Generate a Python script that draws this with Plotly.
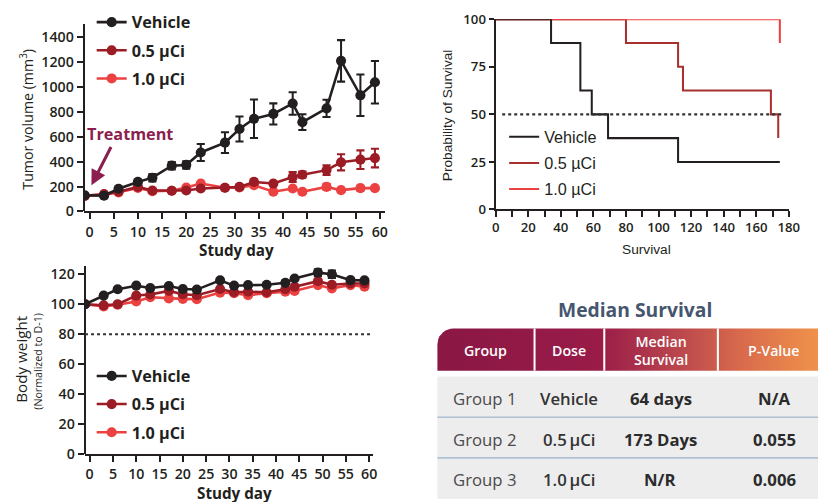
import math
import plotly.graph_objects as go

# Layout is designed on an 818 x 502 grid; the canvas itself is a touch larger
# and everything pixel-based is multiplied by S so proportions stay the same.
W0, H0 = 818, 502
W, H = 830, 510
S = W / W0


def fx(p):
    return p / W0


def fy(p):
    return 1 - p / H0


def sz(v):
    return v * S


# ---------------- data ----------------
groups = ["Vehicle", "0.5 µCi", "1.0 µCi"]
colors = ["#231F20", "#9C1C26", "#EC4141"]
km_colors = ["#231F20", "#A8302E", "#EC4141"]

days = [-1, 3, 6, 10, 13, 17, 20, 23, 28, 31, 34, 38, 42, 44, 49, 52, 56, 59]

tumor_vehicle = [130, 126, 182, 237, 271, 368, 374, 474, 553, 663, 745, 784, 868, 718, 829, 1211, 934, 1039]
tumor_vehicle_err = [8, 8, 10, 15, 30, 30, 30, 68, 83, 100, 155, 85, 90, 63, 70, 167, 167, 171]
tumor_05 = [125, 139, 158, 197, 168, 166, 168, 184, 190, 197, 237, 224, 276, 295, 332, 395, 416, 429]
tumor_05_err = [5, 5, 5, 8, 8, 8, 8, 10, 8, 10, 20, 10, 40, 25, 40, 65, 75, 75]
tumor_10 = [124, 131, 153, 189, 163, 166, 192, 224, 190, 192, 210, 158, 184, 158, 197, 171, 187, 187]
tumor_10_err = [5, 5, 5, 8, 5, 8, 8, 8, 8, 8, 10, 8, 8, 8, 25, 8, 20, 8]

bw_vehicle = [100, 105.8, 110, 112.4, 110.8, 112.2, 110.2, 109.8, 115.9, 112.4, 112.8, 113, 114.3, 117.2, 121.1, 120, 116.1, 115.9]
bw_vehicle_err = [0, 1, 1, 1, 1, 1, 1, 1, 1, 1, 1, 1, 1, 1, 2.3, 2.5, 1, 1]
bw_05 = [100, 99.3, 100, 105.8, 106.5, 108.9, 106.7, 106, 110.2, 108, 108.4, 108, 110, 111.7, 115.4, 113, 113.9, 113.9]
bw_10 = [100, 98.6, 99.7, 101.9, 104.7, 103.9, 103.6, 103.4, 107.8, 107.4, 106, 107.4, 108.4, 108.9, 112.8, 110.6, 112.8, 111.7]

km_vehicle_t = [0, 34, 52, 59, 69, 112, 174.5]
km_vehicle_s = [100, 87.5, 62.5, 50, 37.5, 25, 25]
km_05_t = [0, 80, 112, 115, 169, 173.5]
km_05_s = [100, 87.5, 75, 62.5, 50, 37.5]
km_10_t = [0, 174.5]
km_10_s = [100, 87.5]

table_title = "Median Survival"
table_header = ["Group", "Dose", "Median<br>Survival", "P-Value"]
table_group = ["Group 1", "Group 2", "Group 3"]
table_dose = ["Vehicle", "0.5\u2009µCi", "1.0\u2009µCi"]
table_median = ["64 days", "173 Days", "N/R"]
table_p = ["N/A", "0.055", "0.006"]

FONT = "Open Sans"
KFONT = "Liberation Sans"
INK = "#231F20"


def font(size, family=FONT, color=INK, weight=400):
    return dict(family=family, size=sz(size), color=color, weight=weight)


fig = go.Figure()

# ---------------- tumor volume ----------------
tumor_series = [(tumor_10, tumor_10_err, 2), (tumor_05, tumor_05_err, 1), (tumor_vehicle, tumor_vehicle_err, 0)]
for vals, errs, gi in tumor_series:
    fig.add_trace(go.Scatter(
        x=days, y=vals, mode="lines+markers", name=groups[gi],
        line=dict(color=colors[gi], width=sz(2.5)),
        marker=dict(color=colors[gi], size=sz(10)),
        error_y=dict(type="data", array=errs, color=colors[gi], thickness=sz(2), width=sz(4)),
        xaxis="x", yaxis="y", legend="legend", legendgroup="t" + str(gi), legendrank=gi,
    ))

# ---------------- Kaplan-Meier ----------------
km_series = [(km_05_t, km_05_s, 1), (km_10_t, km_10_s, 2), (km_vehicle_t, km_vehicle_s, 0)]
for t, s, gi in km_series:
    fig.add_trace(go.Scatter(
        x=t, y=s, mode="lines", line_shape="hv", name=groups[gi],
        line=dict(color=km_colors[gi], width=sz(2)),
        xaxis="x2", yaxis="y2", legend="legend2", legendgroup="k" + str(gi), legendrank=gi,
    ))

# ---------------- body weight ----------------
bw_series = [(bw_10, None, 2), (bw_05, None, 1), (bw_vehicle, bw_vehicle_err, 0)]
for vals, errs, gi in bw_series:
    fig.add_trace(go.Scatter(
        x=days, y=vals, mode="lines+markers", name=groups[gi],
        line=dict(color=colors[gi], width=sz(2.5)),
        marker=dict(color=colors[gi], size=sz(10)),
        error_y=(dict(type="data", array=errs, color=colors[gi], thickness=sz(2), width=sz(4))
                 if errs else dict(visible=False)),
        xaxis="x3", yaxis="y3", legend="legend3", legendgroup="b" + str(gi), legendrank=gi,
    ))

# ---------------- table header band (design-grid overlay axes) ----------------
r = 16
hx0, hx1, hy0, hy1 = 435, 818, 326, 369
px_pts, py_pts = [], []
for k in range(0, 10):
    a = math.pi + (math.pi / 2) * k / 9
    px_pts.append(hx0 + r + r * math.cos(a))
    py_pts.append(hy0 + r + r * math.sin(a))
px_pts += [hx1, hx1, hx0, hx0]
py_pts += [hy0, hy1, hy1, hy0 + r]
fig.add_trace(go.Scatter(
    x=px_pts, y=py_pts, mode="lines", fill="toself", line=dict(width=0),
    fillgradient=dict(type="horizontal", colorscale=[
        [0, "#8A1744"], [0.42, "#991B48"], [0.62, "#B8444D"], [0.8, "#D96B4C"], [1, "#F0924A"]]),
    xaxis="x4", yaxis="y4", showlegend=False, hoverinfo="skip",
))

axis_common = dict(showgrid=False, zeroline=False, showline=True, linewidth=sz(2), linecolor=INK,
                   ticks="outside", tickwidth=sz(2), tickcolor=INK)
legend_common = dict(xanchor="left", yanchor="top", bgcolor="rgba(0,0,0,0)",
                     traceorder="grouped")

fig.update_layout(
    width=W, height=H, margin=dict(l=0, r=0, t=0, b=0),
    paper_bgcolor="white", plot_bgcolor="rgba(0,0,0,0)", showlegend=True,
    xaxis=dict(domain=[fx(80), fx(382)], range=[-1.2, 61], anchor="y",
               tickvals=list(range(0, 61, 5)), ticklen=sz(6),
               tickfont=font(14, weight=600), **axis_common),
    yaxis=dict(domain=[fy(206.5), fy(15)], range=[0, 1510], anchor="free", position=fx(80),
               tickvals=list(range(0, 1401, 200)), ticklen=sz(6),
               tickfont=font(14, weight=600), **axis_common),
    xaxis2=dict(domain=[fx(493.5), fx(787.7)], range=[0, 180], anchor="y2",
                tickvals=list(range(0, 181, 10)),
                ticktext=[str(v) if v % 20 == 0 else "" for v in range(0, 181, 10)], ticklen=sz(5),
                tickfont=font(13, weight=600), **axis_common),
    yaxis2=dict(domain=[fy(204.5), fy(10.5)], range=[0, 100], anchor="x2",
                tickvals=[0, 25, 50, 75, 100], ticklen=sz(5),
                tickfont=font(13, weight=600), **axis_common),
    xaxis3=dict(domain=[fx(81), fx(370.7)], range=[-1.07, 60.9], anchor="y3",
                tickvals=list(range(0, 61, 5)), ticklen=sz(6),
                tickfont=font(14, weight=600), **axis_common),
    yaxis3=dict(domain=[fy(454.3), fy(262.7)], range=[0, 125.2], anchor="free", position=fx(81),
                tickvals=list(range(0, 121, 20)), ticklen=sz(6),
                tickfont=font(14, weight=600), **axis_common),
    xaxis4=dict(domain=[0, 1], range=[0, W0], visible=False, fixedrange=True),
    yaxis4=dict(domain=[0, 1], range=[H0, 0], visible=False, fixedrange=True, anchor="x4"),
    legend=dict(x=fx(88), y=fy(-4), tracegroupgap=sz(4),
                font=font(16, weight=700), **legend_common),
    legend2=dict(x=fx(502), y=fy(113), tracegroupgap=sz(2),
                 font=font(16, family=KFONT), **legend_common),
    legend3=dict(x=fx(88), y=fy(357), tracegroupgap=sz(4),
                 font=font(16, weight=700), **legend_common),
)

# reference lines
fig.add_shape(type="line", xref="x2", yref="y2", x0=4, x1=177, y0=50, y1=50,
              line=dict(color="#333333", width=sz(2), dash="dot"))
fig.add_shape(type="line", xref="x3", yref="y3", x0=-1, x1=60.7, y0=80, y1=80,
              line=dict(color="#333333", width=sz(2), dash="dot"))

# treatment marker
fig.add_annotation(x=8.3, y=625, xref="x", yref="y", text="Treatment", showarrow=False,
                   xanchor="center", yanchor="middle",
                   font=font(16, color="#8B1E4F", weight=700))
fig.add_annotation(x=0.4, y=210, ax=4.6, ay=530, xref="x", yref="y", axref="x", ayref="y",
                   text="", showarrow=True, arrowhead=2, arrowsize=1, arrowwidth=sz(3),
                   arrowcolor="#8B1E4F")


def label(x, y, text, fnt, angle=0):
    fig.add_annotation(x=fx(x), y=fy(y), xref="paper", yref="paper", text=text,
                       textangle=angle, showarrow=False, xanchor="center", yanchor="middle",
                       font=fnt)


# axis titles
label(23, 112, "Tumor volume (mm<sup>3</sup>)", font(14), -90)
label(233, 246, "Study day", font(15, weight=700))
label(231, 494, "Study day", font(15, weight=700))
label(17, 357, "Body weight", font(15), -90)
label(34, 359, "(Normalized to D-1)", font(10.5), -90)
label(445, 108, "Probability of Survival", font(13.5, family=KFONT), -90)
label(645, 245, "Survival", font(13.5, family=KFONT))

# ---------------- table ----------------
label(633, 307, table_title, font(19, color="#46566E", weight=700))
fig.add_shape(type="rect", xref="paper", yref="paper", x0=fx(435), x1=1, y0=fy(500), y1=fy(375),
              fillcolor="#EDEDEE", line=dict(width=0), layer="below")
for yy in [416.5, 458]:
    fig.add_shape(type="line", xref="paper", yref="paper", x0=fx(435), x1=1, y0=fy(yy), y1=fy(yy),
                  line=dict(color="#AFC0D3", width=sz(1.5)))
for xx in [532.5, 602.5, 716.5]:
    fig.add_shape(type="line", xref="paper", yref="paper", x0=fx(xx), x1=fx(xx), y0=fy(369), y1=fy(326),
                  line=dict(color="white", width=sz(2)))

col_x = [483, 567, 659, 773]
for cx, txt in zip(col_x, table_header):
    label(cx, 348, txt, font(14, color="white", weight=600))

row_y = [397, 439, 480]
for i, ry in enumerate(row_y):
    cells = [
        (table_group[i], font(16.5, color="#4A4A4A", weight=400)),
        (table_dose[i], font(16.5, color="#333333", weight=600)),
        (table_median[i], font(16.5, color="#2B2B2B", weight=700)),
        (table_p[i], font(16.5, color="#2B2B2B", weight=700)),
    ]
    for cx, (txt, fnt) in zip(col_x, cells):
        label(cx, ry, txt, fnt)

fig.write_html("out.html")
